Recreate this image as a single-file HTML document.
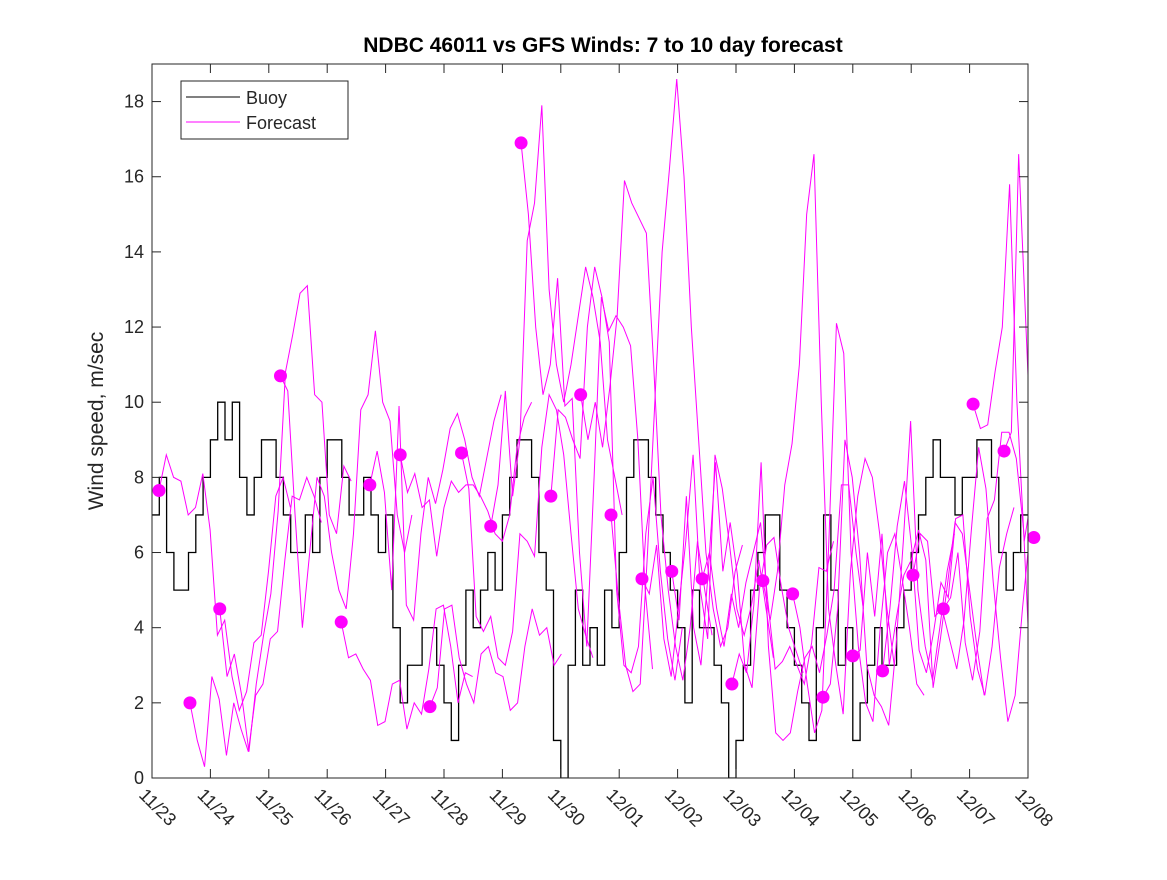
<!DOCTYPE html>
<html><head><meta charset="utf-8">
<style>
body{margin:0;background:#fff;}
svg text{font-family:"Liberation Sans","DejaVu Sans",sans-serif;fill:#262626;}
</style></head>
<body>
<svg id="chart" width="1167" height="875" viewBox="0 0 1167 875" xmlns="http://www.w3.org/2000/svg">
<rect x="0" y="0" width="1167" height="875" fill="#fff"/>
<defs><clipPath id="plotclip"><rect x="152" y="64" width="876" height="714"/></clipPath></defs>
<rect x="152" y="64" width="876" height="714" fill="#fff"/>
<g id="buoyG" clip-path="url(#plotclip)"></g>
<g id="fcG" clip-path="url(#plotclip)"></g>
<g id="dotG"></g>
<rect x="152" y="64" width="876" height="714" fill="none" stroke="#262626" stroke-width="1"/>
<g id="axisG"></g>
<text x="603" y="52" text-anchor="middle" font-size="21" font-weight="bold" style="fill:#000">NDBC 46011 vs GFS Winds: 7 to 10 day forecast</text>
<text transform="translate(103,421) rotate(-90)" text-anchor="middle" font-size="21">Wind speed, m/sec</text>
<g>
<rect x="181" y="81" width="167" height="58" fill="#fff" stroke="#262626" stroke-width="1"/>
<line x1="186" y1="97" x2="240" y2="97" stroke="#000" stroke-width="1"/>
<text x="246" y="104" font-size="18">Buoy</text>
<line x1="186" y1="122" x2="240" y2="122" stroke="#ff00ff" stroke-width="1"/>
<text x="246" y="129" font-size="18">Forecast</text>
</g>
</svg>
<script>
const xTickLabels = ["11/23","11/24","11/25","11/26","11/27","11/28","11/29","11/30","12/01","12/02","12/03","12/04","12/05","12/06","12/07","12/08"];
const yTicks = [0,2,4,6,8,10,12,14,16,18];
// buoy wind speed, 3-hourly from 11/23 00:00
const buoyValues = [
7,8,6,5,5,6,7,8, 9,10,9,10,8,7,8,9, 9,8,7,6,6,7,6,8, 9,9,8,7,7,8,7,6,
7,4,2,3,3,4,4,3, 2,1,3,5,4,5,6,5, 7,8,9,9,8,6,5,1, 0,3,5,3,4,3,5,4,
6,8,9,9,8,7,6,5, 4,2,5,4,4,3,2,0, 1,3,5,6,7,7,5,4, 3,2,1,4,7,5,3,4,
1,2,3,4,3,3,4,5, 6,7,8,9,8,8,7,8, 8,9,9,8,6,5,6,7];
// forecast run start times (days after 11/23) and values at 3h steps
const fcStarts = [0.12,0.65,1.16,2.2,3.24,3.73,4.25,4.76,5.3,5.8,6.32,6.83,7.34,7.86,8.39,8.9,9.42,9.93,10.46,10.97,11.49,12.0,12.51,13.03,13.55,14.06,14.59,15.1];
const fcValues = [
[7.65,8.6,8,7.9,7,7.2,8.1,6.6,3.8,4.2,2.7,1.8,2.3,3.6,3.8,5.5,7.5,8,7.2],
[2.0,1,0.3,2.7,2.1,0.6,2.0,1.3,0.7,2.2,2.5,3.7,3.9,5.8,7.5,7.4,8.0,7.5,6.8],
[4.5,2.7,3.3,2.2,0.7,2.5,3.8,4.9,7.1,10.8,11.8,12.9,13.1,10.2,10,7,6.5,8.3,7.9],
[10.7,10.3,7,4,6,8,7.5,6,5,4.5,6.5,9.8,10.2,11.9,10,9.5,7,6,7],
[4.15,3.2,3.3,2.9,2.6,1.4,1.5,2.5,2.6,1.3,2,1.7,2.9,4.5,4.6,3.5,2,2.8,2.7],
[7.8,8.7,7.6,5,9.9,4.6,4.2,6.5,8,7.3,8.2,9.3,9.7,9,8,7.5,8.5,9.5,10.2],
[8.6,7.6,8.1,7.2,7.4,5.9,7.2,7.9,7.6,7.8,7.8,7.5,7.1,6.5,6.3,7,8.8,9.6,10],
[1.9,2.4,4.5,4.6,3.2,2.5,2.0,3.3,3.5,2.8,2.7,1.8,2.0,3.5,4.5,3.8,4,3,3.3],
[8.65,7.7,4.3,3.9,4.3,3.2,3.0,3.9,6.5,6.3,5.9,8.8,10.2,9.8,8.6,6.5,4.5,3.8,3.2],
[6.7,7.8,10.3,7.5,9,14.3,15.3,17.9,13,11,10,11,12.3,13.6,12.8,11.6,9,8,7],
[16.9,15,12,10.2,11,13.3,9.9,10.1,6,3.5,8,12.8,11.9,12.3,12.0,11.5,9,5,2.9],
[7.5,9.8,9.6,9,8.5,12,13.6,12.8,11.6,5,3,2.8,3.5,6.5,8,5.5,3.7,2.6,4],
[10.2,9,10,8.8,10.4,12.3,15.9,15.3,14.9,14.5,11,7,5,3.5,2.6,4,6.3,5,3.8],
[7.0,4.8,3,2.3,2.5,6,10,14,16.2,18.6,16,12,9,6,4.5,3.5,4,5.5,6.2],
[5.3,4.9,6.2,3.7,2.7,4.5,6.3,8.6,5,3.7,8.6,7.7,6.2,4.5,3.8,4.6,5.8,4.5,3.2],
[5.5,4.2,7.5,4,3,5.5,8.4,5.5,6.8,5.4,3,2.4,5,6.2,6.4,5.1,4,3.4,2.8],
[5.3,6,4.5,3.5,4.9,4,5.2,6,6.8,4.7,2.9,3.1,3.5,3,2.5,3.6,5.6,5.5,6.3],
[2.5,3.3,2.8,4.6,8.4,3.5,1.2,1.0,1.2,2.3,3.2,3.5,2.8,3.8,5,7.8,7.8,6,4.5],
[5.25,4.2,5.5,7.8,8.9,11,15,16.6,10,4.5,3,1.7,5.5,7.5,8.5,8,6.5,4.5,3],
[4.9,4,2.5,1.2,1.8,6.5,12.1,11.3,6,3.5,2,1.5,4,6,6.5,5.3,4,2.5,2.2],
[2.15,2.5,4.5,9,8,6,3,2.2,1.9,1.4,3.5,6.3,9.5,5,3.5,2.6,4,5.5,6.5],
[3.25,3.4,6,4.3,6.5,3,4.3,5.4,5.8,6.6,5.8,2.4,3.7,5.2,6.8,6.5,5,3.5,2.2],
[2.85,4.5,6.7,7.9,6.1,3.4,2.8,3.9,5.2,4.8,6.9,7,4.3,2.9,2.2,3.5,5.6,6.5,7.2],
[5.4,6.5,6.3,4.3,4.5,3.7,2.9,4.2,6.6,8.8,7.7,5.2,3.2,1.5,2.2,4.5,6.5,7,8],
[4.5,4.8,6.0,3.6,2.6,3.9,6.9,7.4,9.2,9.2,8.5,6.6,2.4,1.8,3.5,4,3.8,4.5,5],
[9.95,9.3,9.4,10.8,12,15.8,10,6.3,7.5,9.5,11.4,10.5,8,7,6],
[8.7,9.2,16.6,12,7.4,7.5,7.9,7.3,6,7,8,9,10],
[6.4,6.5,7,8,9,10,9,8,7,6,5,6,7]];

const NS="http://www.w3.org/2000/svg";
const X0=152,X1=1028,Y0=778,Y1=64,DAYS=15,YMAX=19;
function xs(d){return X0+(X1-X0)*d/DAYS;}
function ys(v){return Y0-(Y0-Y1)*v/YMAX;}
function mk(tag,attrs,parent){const e=document.createElementNS(NS,tag);for(const k in attrs)e.setAttribute(k,attrs[k]);parent.appendChild(e);return e;}

// buoy step line
let d="";
buoyValues.forEach((v,i)=>{const x1=xs(i/8),x2=xs((i+1)/8);
 if(i===0) d+="M"+x1+","+ys(v); else d+="L"+x1+","+ys(v);
 d+="L"+x2+","+ys(v);});
const bp=mk("path",{d:d,fill:"none",stroke:"#000","stroke-width":1.3},document.getElementById("buoyG"));



// forecasts
const fg=document.getElementById("fcG"),dg=document.getElementById("dotG");
fcValues.forEach((arr,k)=>{
 const t0=fcStarts[k];
 const pts=arr.map((v,i)=>xs(t0+i/8)+","+ys(v)).join(" ");
 const pl=mk("polyline",{points:pts,fill:"none",stroke:"#ff00ff","stroke-width":1},fg);
 
 
 const c=mk("circle",{cx:xs(t0),cy:ys(arr[0]),r:6.5,fill:"#ff00ff"},dg);
 
 
});

// axes
const ag=document.getElementById("axisG");
yTicks.forEach(v=>{const y=ys(v);
 mk("line",{x1:X0,y1:y,x2:X0+9,y2:y,stroke:"#262626"},ag);
 mk("line",{x1:X1,y1:y,x2:X1-9,y2:y,stroke:"#262626"},ag);
 const t=mk("text",{x:X0-8,y:y+6,"text-anchor":"end","font-size":18},ag);
 t.textContent=v;
 
 
});
xTickLabels.forEach((lab,i)=>{const x=xs(i);
 mk("line",{x1:x,y1:Y0,x2:x,y2:Y0-9,stroke:"#262626"},ag);
 mk("line",{x1:x,y1:Y1,x2:x,y2:Y1+9,stroke:"#262626"},ag);
 const t=mk("text",{transform:"translate("+(x-14)+","+(Y0+18)+") rotate(45)","font-size":18},ag);
 t.textContent=lab;
 
 
});
</script>
</body></html>
